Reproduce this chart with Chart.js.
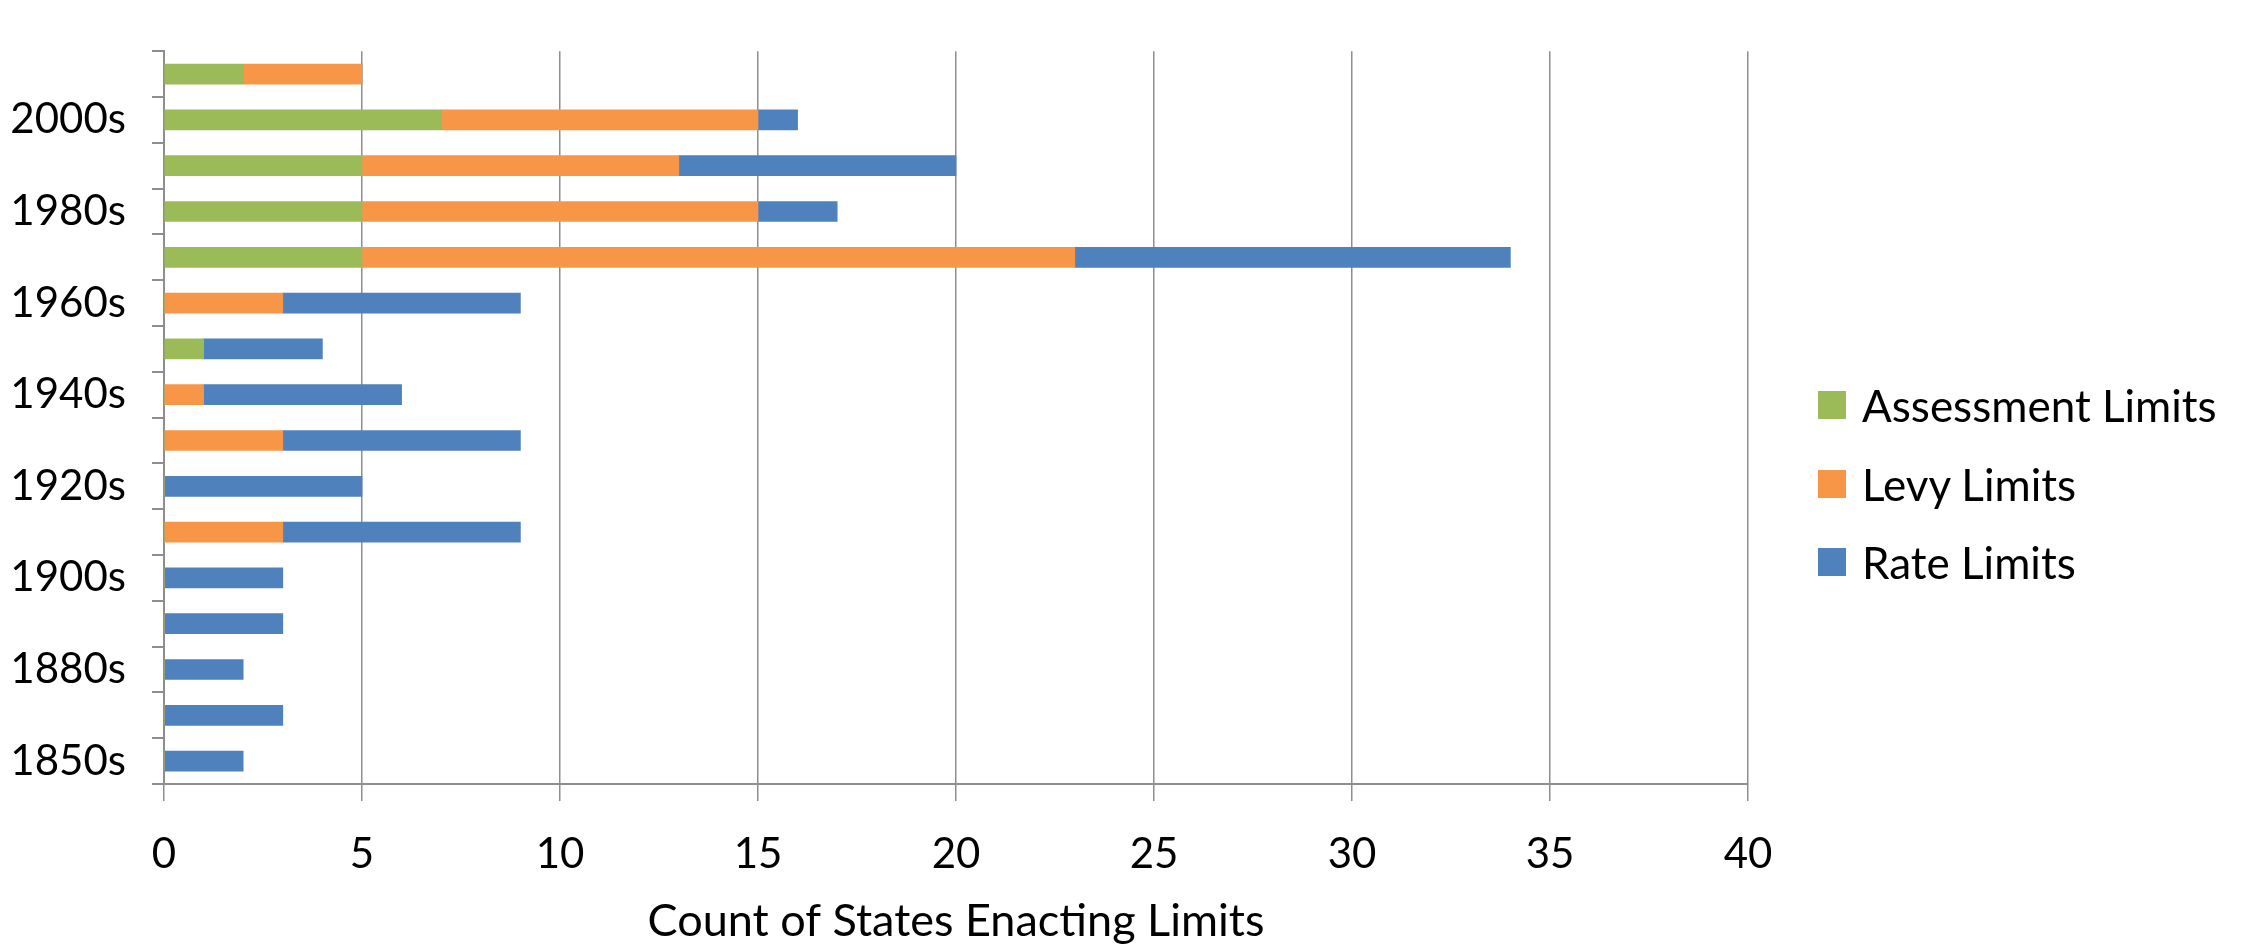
<!DOCTYPE html>
<html>
<head>
<meta charset="utf-8">
<title>Count of States Enacting Limits</title>
<script src="https://cdn.jsdelivr.net/npm/chart.js@4.4.1/dist/chart.umd.min.js"></script>
<style>
    body { margin: 0; background: #fff; }
    #wrap { position: relative; width: 2254px; height: 950px; }
    #legend {
        position: absolute;
        left: 1818px;
        top: 366px;
        font-family: Lato, "Open Sans", sans-serif;
        font-size: 44px;
        color: #000;
    }
    .legend-item { display: flex; align-items: center; height: 78.5px; }
    .legend-box { width: 28px; height: 28px; margin-right: 16px; }
</style>
</head>
<body>
<div id="wrap">
    <canvas id="limitsChart" width="2254" height="950"></canvas>
    <div id="legend"></div>
</div>

<script>
// Decades, bottom to top
const decades = ["1850s", "1870s", "1880s", "1890s", "1900s", "1910s", "1920s", "1930s",
                 "1940s", "1950s", "1960s", "1970s", "1980s", "1990s", "2000s", "2010s"];

// Only every other decade gets a label on the axis
const shownLabels = ["1850s", "1880s", "1900s", "1920s", "1940s", "1960s", "1980s", "2000s"];

const assessmentLimits = [0, 0, 0, 0, 0, 0, 0, 0, 0, 1, 0, 5, 5, 5, 7, 2];
const levyLimits       = [0, 0, 0, 0, 0, 3, 0, 3, 1, 0, 3, 18, 10, 8, 8, 3];
const rateLimits       = [2, 3, 2, 3, 3, 6, 5, 6, 5, 3, 6, 11, 2, 7, 1, 0];

const xTicks = [0, 5, 10, 15, 20, 25, 30, 35, 40];

const fontFamily = "Lato, 'Open Sans', sans-serif";
const axisGray = "#8e8e8e";

const datasets = [
    { label: "Assessment Limits", data: assessmentLimits, backgroundColor: "#9bbb59" },
    { label: "Levy Limits", data: levyLimits, backgroundColor: "#f79646" },
    { label: "Rate Limits", data: rateLimits, backgroundColor: "#4f81bd" }
];

const ctx = document.getElementById("limitsChart").getContext("2d");

const chart = new Chart(ctx, {
    type: "bar",
    data: {
        labels: decades,
        datasets: datasets.map(d => ({ ...d, barThickness: 20, borderWidth: 0 }))
    },
    options: {
        indexAxis: "y",
        responsive: false,
        animation: false,
        devicePixelRatio: 1,
        layout: { padding: { top: 8, right: 506, left: 0, bottom: 0 } },
        plugins: {
            legend: { display: false },
            tooltip: { enabled: false }
        },
        scales: {
            x: {
                stacked: true,
                min: xTicks[0],
                max: xTicks[xTicks.length - 1],
                afterBuildTicks: scale => { scale.ticks = xTicks.map(v => ({ value: v })); },
                afterFit: scale => { scale.height = 166; },
                grid: { color: axisGray, lineWidth: 1.5, tickLength: 17 },
                border: { color: axisGray, width: 2 },
                ticks: {
                    color: "#000",
                    padding: 28,
                    font: { family: fontFamily, size: 42 }
                },
                title: {
                    display: true,
                    text: "Count of States Enacting Limits",
                    color: "#000",
                    font: { family: fontFamily, size: 45 },
                    padding: { top: 0, bottom: 2 }
                }
            },
            y: {
                stacked: true,
                reverse: true,
                afterFit: scale => { scale.width = 164; },
                grid: { drawOnChartArea: false, color: axisGray, lineWidth: 2, tickLength: 12 },
                border: { color: axisGray, width: 2 },
                ticks: {
                    autoSkip: false,
                    color: "#000",
                    padding: 26,
                    font: { family: fontFamily, size: 42 },
                    callback: function (value) {
                        const label = this.getLabelForValue(value);
                        return shownLabels.includes(label) ? label : "";
                    }
                }
            }
        }
    }
});

// Legend
function buildLegend() {
    const legend = document.getElementById("legend");
    legend.innerHTML = "";
    chart.data.datasets.forEach(d => {
        legend.innerHTML += `
        <div class="legend-item">
            <div class="legend-box" style="background:${d.backgroundColor}"></div>
            <span>${d.label}</span>
        </div>`;
    });
}

buildLegend();
</script>
</body>
</html>
